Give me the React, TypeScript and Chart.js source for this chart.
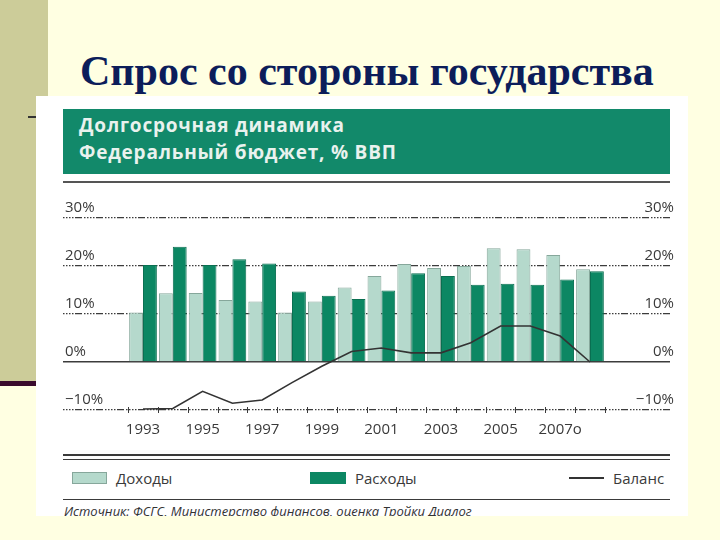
import React, { useEffect, useRef } from "react";
import { Chart, registerables } from "chart.js";

Chart.register(...registerables);

// ---- data ----
const years = [1993, 1994, 1995, 1996, 1997, 1998, 1999, 2000, 2001, 2002, 2003, 2004, 2005, 2006, 2007, 2008];
const revenues = [10.3, 14.3, 14.4, 12.9, 12.6, 10.3, 12.6, 15.5, 17.9, 20.4, 19.6, 20.0, 23.7, 23.5, 22.3, 19.3];
const expenditures = [20.2, 24.0, 20.2, 21.4, 20.5, 14.7, 13.8, 13.1, 14.9, 18.5, 17.9, 16.1, 16.3, 16.1, 17.2, 18.9];
const balance = [-9.8, -9.7, -6.1, -8.6, -7.9, -4.3, -0.9, 2.2, 2.9, 1.9, 1.9, 4.0, 7.5, 7.5, 5.4, 0.0];
const tickYears = [1993, 1995, 1997, 1999, 2001, 2003, 2005, 2007];
const tickLabels = ["1993", "1995", "1997", "1999", "2001", "2003", "2005", "2007о"];
const yTicks = [-10, 0, 10, 20, 30];
const yTickLabels = ["−10%", "0%", "10%", "20%", "30%"];
const seriesNames = ["Доходы", "Расходы", "Баланс"];
const slideTitle = "Спрос со стороны государства";
const headerLines = ["Долгосрочная динамика", "Федеральный бюджет, % ВВП"];
const sourceText = "Источник: ФСГС, Министерство финансов, оценка Тройки Диалог";

const LIGHT = "#b5d9cc";
const LIGHT_BORDER = "#86a79b";
const DARK = "#0c8763";
const DARK_BORDER = "#0a6f51";
const GREEN_BAND = "#12896a";
const INK = "#3a3a3a";
const FONT = "'Open Sans', 'Noto Sans', sans-serif";

const yearTicksPlugin = {
  id: "yearTicks",
  afterDatasetsDraw(chart: any) {
    const { ctx, scales } = chart;
    const xs = scales.x;
    const yb = scales.y.getPixelForValue(yTicks[0]);
    ctx.save();
    ctx.strokeStyle = INK;
    ctx.lineWidth = 1;
    const bounds = years.map((y) => y - 0.5).concat([years[years.length - 1] + 0.5]);
    bounds.forEach((b) => {
      const x = Math.round(xs.getPixelForValue(b)) + 0.5;
      ctx.beginPath();
      ctx.moveTo(x, yb - 3);
      ctx.lineTo(x, yb + 3);
      ctx.stroke();
    });
    ctx.restore();
  },
};

const gridDash = [1.5, 1.5, 1.5, 1.5, 1.5, 1.5, 1.5, 1.5, 7, 2];

function ChartCanvas() {
  const ref = useRef<HTMLCanvasElement | null>(null);
  useEffect(() => {
    if (!ref.current) return;
    const yTickFmt = (v: any) => {
      const i = yTicks.indexOf(Number(v));
      return i >= 0 ? yTickLabels[i] : "";
    };
    const chart = new Chart(ref.current, {
      type: "bar",
      data: {
        datasets: [
          {
            type: "line",
            label: seriesNames[2],
            data: years.map((x, i) => ({ x, y: balance[i] })),
            borderColor: "#333333",
            borderWidth: 1.6,
            pointRadius: 0,
            tension: 0,
            order: 0,
          } as any,
          {
            type: "bar",
            label: seriesNames[0],
            data: years.map((x, i) => ({ x, y: revenues[i] })),
            backgroundColor: LIGHT,
            borderColor: LIGHT_BORDER,
            borderWidth: 1,
            categoryPercentage: 0.93,
            barPercentage: 1.0,
            order: 1,
          },
          {
            type: "bar",
            label: seriesNames[1],
            data: years.map((x, i) => ({ x, y: expenditures[i] })),
            backgroundColor: DARK,
            borderColor: DARK_BORDER,
            borderWidth: 1,
            categoryPercentage: 0.93,
            barPercentage: 1.0,
            order: 1,
          },
        ],
      },
      options: {
        responsive: false,
        animation: false,
        layout: { padding: { left: 27, right: 18, top: 33, bottom: 10 } },
        plugins: { legend: { display: false }, tooltip: { enabled: false }, title: { display: false } },
        scales: {
          x: {
            type: "linear",
            offset: false,
            min: 1990.315,
            max: 2010.685,
            grid: { display: false, drawTicks: false, offset: false },
            border: { display: false },
            afterBuildTicks: (scale: any) => {
              scale.ticks = tickYears.map((v) => ({ value: v }));
            },
            afterFit: (scale: any) => {
              scale.height = 30;
            },
            ticks: {
              autoSkip: false,
              maxRotation: 0,
              padding: 11,
              color: INK,
              font: { family: FONT, size: 15 },
              callback: (v: any) => {
                const i = tickYears.indexOf(Number(v));
                return i >= 0 ? tickLabels[i] : "";
              },
            },
          },
          y: {
            type: "linear",
            position: "left",
            min: -10,
            max: 30,
            afterBuildTicks: (scale: any) => {
              scale.ticks = yTicks.map((v) => ({ value: v }));
            },
            afterFit: (scale: any) => {
              scale.width = 0;
            },
            grid: {
              drawTicks: false,
              color: "#3c3c3c",
              lineWidth: (c: any) => (c.tick && c.tick.value === 0 ? 1.6 : 1.2),
            },
            border: {
              display: false,
              dash: (c: any) => (c.tick && c.tick.value === 0 ? [] : gridDash),
            } as any,
            ticks: {
              mirror: true,
              padding: 2,
              labelOffset: -10,
              color: INK,
              font: { family: FONT, size: 15 },
              callback: yTickFmt,
            },
          },
          y2: {
            type: "linear",
            position: "right",
            min: -10,
            max: 30,
            afterBuildTicks: (scale: any) => {
              scale.ticks = yTicks.map((v) => ({ value: v }));
            },
            afterFit: (scale: any) => {
              scale.width = 0;
            },
            grid: { display: false, drawTicks: false },
            border: { display: false },
            ticks: {
              mirror: true,
              padding: 4,
              labelOffset: -10,
              color: INK,
              font: { family: FONT, size: 15 },
              callback: yTickFmt,
            },
          },
        },
      } as any,
      plugins: [yearTicksPlugin],
    });
    return () => chart.destroy();
  }, []);
  return (
    <canvas
      ref={ref}
      width={652}
      height={265}
      style={{ position: "absolute", left: 0, top: 89, width: 652, height: 265 }}
    />
  );
}

const abs = (s: React.CSSProperties): React.CSSProperties => ({ position: "absolute", ...s });

export default function App() {
  return (
    <div
      style={{
        position: "fixed",
        left: 0,
        top: 0,
        width: 720,
        height: 540,
        background: "#FFFFE2",
        overflow: "hidden",
      }}
    >
      <div style={abs({ left: 0, top: 0, width: 48, height: 381, background: "#CCCC99" })} />
      <div style={abs({ left: 0, top: 381, width: 40, height: 5, background: "#3a0b2c" })} />
      <div style={abs({ left: 28, top: 116, width: 10, height: 2, background: "#333" })} />
      <div
        style={abs({
          left: 80,
          top: 50,
          whiteSpace: "nowrap",
          fontFamily: "'Liberation Serif', 'Times New Roman', serif",
          fontWeight: "bold",
          fontSize: 42,
          lineHeight: "42px",
          color: "#0c1d5a",
        })}
      >
        {slideTitle}
      </div>
      <div style={abs({ left: 36, top: 96, width: 652, height: 420, background: "#ffffff", overflow: "hidden" })}>
        <div style={abs({ left: 27, top: 13, width: 607, height: 65, background: GREEN_BAND })} />
        <div
          style={abs({
            left: 43,
            top: 16,
            fontFamily: FONT,
            fontWeight: "bold",
            fontSize: 19,
            letterSpacing: 0.8,
            lineHeight: "27px",
            color: "#e9f2ee",
            whiteSpace: "nowrap",
          })}
        >
          <div>{headerLines[0]}</div>
          <div>{headerLines[1]}</div>
        </div>
        <div style={abs({ left: 27, top: 85, width: 607, height: 2, background: "#555" })} />
        <ChartCanvas />
        <div style={abs({ left: 27, top: 358, width: 607, height: 1.5, background: INK })} />
        <div style={abs({ left: 27, top: 362.5, width: 607, height: 1.5, background: INK })} />
        <div style={abs({ left: 36, top: 376, width: 33, height: 10, background: LIGHT, border: `1px solid ${LIGHT_BORDER}` })} />
        <div style={abs({ left: 80, top: 371, height: 22, lineHeight: "22px", fontFamily: FONT, fontSize: 15, color: INK })}>
          {seriesNames[0]}
        </div>
        <div style={abs({ left: 274, top: 376, width: 36, height: 12, background: DARK })} />
        <div style={abs({ left: 319, top: 371, height: 22, lineHeight: "22px", fontFamily: FONT, fontSize: 15, color: INK })}>
          {seriesNames[1]}
        </div>
        <div style={abs({ left: 533, top: 381, width: 35, height: 1.5, background: "#333" })} />
        <div style={abs({ left: 577, top: 371, height: 22, lineHeight: "22px", fontFamily: FONT, fontSize: 15, color: INK })}>
          {seriesNames[2]}
        </div>
        <div style={abs({ left: 27, top: 402.5, width: 607, height: 1.5, background: INK })} />
        <div
          style={abs({
            left: 28,
            top: 406,
            height: 18,
            lineHeight: "18px",
            fontFamily: FONT,
            fontStyle: "italic",
            fontSize: 13,
            color: "#333",
            whiteSpace: "nowrap",
          })}
        >
          {sourceText}
        </div>
      </div>
    </div>
  );
}
